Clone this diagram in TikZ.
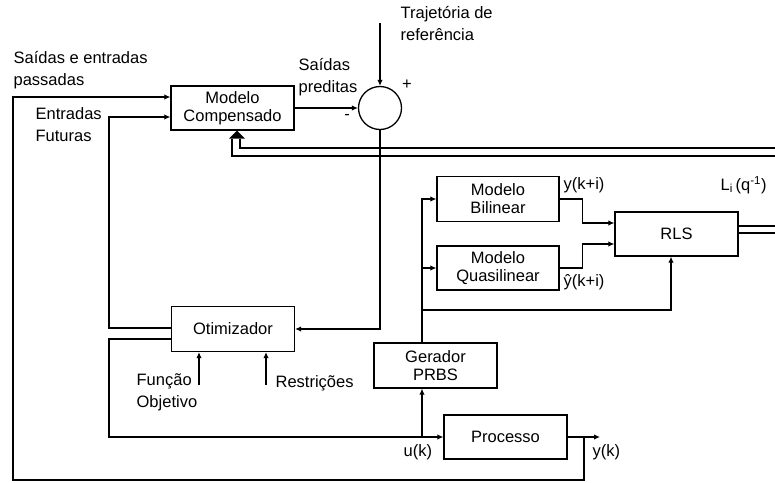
\documentclass[tikz,border=0pt]{standalone}
\usepackage{fontspec}
\setmainfont{Liberation Sans}
\usetikzlibrary{arrows.meta,calc}
\begin{document}
\begin{tikzpicture}[x=1pt,y=-1pt, line width=1.3pt,
  every node/.style={font=\fontsize{16.5}{18}\selectfont, inner sep=0pt},
  blk/.style={draw, minimum width=123pt, minimum height=44pt, align=center},
  lbl/.style={align=left, anchor=west, font=\fontsize{16.5}{22}\selectfont},
  arr/.style={-{Latex[length=6pt,width=5.5pt]}}]
\useasboundingbox (0,0) rectangle (775,482);
\fill[white] (0,0) rectangle (775,482);

% blocks
\node[blk] (mc) at (232.5,108) {Modelo\\Compensado};
\node[draw, circle, minimum size=43pt] (sum) at (380,108) {};
\node[blk, minimum height=45pt] (ot) at (233,329) {Otimizador};
\node[blk, minimum width=122pt, minimum height=45pt] (bil) at (498,199) {Modelo\\Bilinear};
\node[blk, minimum width=122pt] (qua) at (498,268) {Modelo\\Quasilinear};
\node[blk] (rls) at (676.5,234) {RLS};
\node[blk, minimum height=45pt] (prbs) at (435.5,365.5) {Gerador\\PRBS};
\node[blk] (proc) at (505.5,437) {Processo};

% coordinates
\coordinate (yj) at (584,437);
\coordinate (uj) at (422,437);
\coordinate (yout) at (600,437);
\coordinate (ref) at (380,23);
\coordinate (fo) at (199,385);
\coordinate (re) at (266,385);
\coordinate (tip) at (mc.south -| 237,0);

% connectors
\draw[arr] (yj) |- (13,480) |- (mc.west |- 0,97);
\draw[arr] (ot.west |- 0,328) -| (109,117) -- (mc.west |- 0,117);
\draw[arr] (ot.west |- 0,339) -| (109,437) -- (proc.west);
\draw[arr] (uj) -- (prbs.south -| uj);
\draw[arr] (prbs.north -| uj) |- (bil.west);
\draw[arr] (uj |- qua.west) -- (qua.west);
\draw[arr] (uj |- 0,310) -| (rls.south -| 671,0);
\draw[arr] (bil.east) -- ++(23,0) |- ($(rls.west)+(0,-11)$);
\draw[arr] (qua.east) -- ++(23,0) |- ($(rls.west)+(0,10)$);
\draw[arr] (mc.east) -- (sum.west);
\draw[arr] (ref) -- (sum.north);
\draw[arr] (sum.south) |- (ot.east);
\draw[arr] (fo) -- (ot.south -| fo);
\draw[arr] (re) -- (ot.south -| re);
\draw[arr] (proc.east) -- (yout);

% double lines
\draw (rls.east |- 0,226) -- (775,226);
\draw (rls.east |- 0,233) -- (775,233);
\fill (tip) -- ++(-8,8) -- ++(16,0) -- cycle;
\draw ($(tip)+(-5,8)$) |- (775,156);
\draw ($(tip)+(3,8)$) |- (775,148);

% labels
\node[lbl] (t1) at (13,70) {Saídas e entradas\\passadas};
\node[lbl] (t2) at (35,125) {Entradas\\Futuras};
\node[lbl] (t3) at (298,77.5) {Saídas\\preditas};
\node[lbl] (t4) at (400,24) {Trajetória de\\referência};
\node (plus) at (407,85) {+};
\node (minus) at (347,117) {-};
\node[lbl] (t5) at (136,392.5) {Função\\Objetivo};
\node[lbl] (t6) at (275,383) {Restrições};
\node[lbl] (t7) at (403,452) {u(k)};
\node[lbl] (t8) at (592,452) {y(k)};
\node[lbl] (t9) at (563,185) {y(k+i)};
\node[lbl] (t10) at (563,282) {ŷ(k+i)};
\node[lbl] (t11) at (720,185) {L\textsubscript{i}\,(q\textsuperscript{-1})};
\end{tikzpicture}
\end{document}
